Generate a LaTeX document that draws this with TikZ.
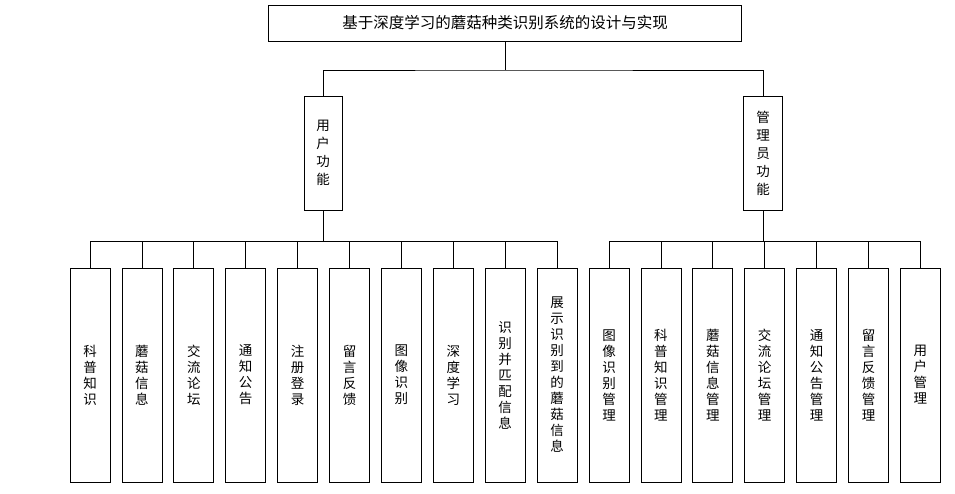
\documentclass[tikz,border=0pt]{standalone}
\usepackage{fontspec}
\setmainfont{Noto Sans CJK SC}
\tikzset{
  box/.style={draw, thick, inner sep=0pt},
  vbox/.style={box, minimum width=40pt, minimum height=214pt, font=\fontsize{13.5}{16}\selectfont, align=center},
  link/.style={thick}
}
\begin{document}
\begin{tikzpicture}[x=1pt,y=-1pt]
\useasboundingbox (0,0) rectangle (955,493);
% top
\node[box, minimum width=473pt, minimum height=36pt, font=\fontsize{15.5}{16}\selectfont] (root) at (505,23) {基于深度学习的蘑菇种类识别系统的设计与实现};
% second level
\node[box, minimum width=38pt, minimum height=114pt, font=\fontsize{13.5}{18}\selectfont, align=center] (user) at (323,153) {用\\户\\功\\能};
\node[box, minimum width=39pt, minimum height=114pt, font=\fontsize{13.5}{18}\selectfont, align=center] (admin) at (763,153) {管\\理\\员\\功\\能};
\coordinate (j) at (505,70);
\draw[link] (root.south) -- (j);
\draw[link] (user.north) |- (j) -| (admin.north);
% leaves
\foreach \t [count=\i] in {科\\普\\知\\识, 蘑\\菇\\信\\息, 交\\流\\论\\坛, 通\\知\\公\\告, 注\\册\\登\\录, 留\\言\\反\\馈, 图\\像\\识\\别, 深\\度\\学\\习, 识\\别\\并\\匹\\配\\信\\息, 展\\示\\识\\别\\到\\的\\蘑\\菇\\信\\息}{
  \node[vbox] (u\i) at ({90+51.9*(\i-1)},375) {\t};
  \draw[link] (u\i.north) |- (user.south |- 0,241);
}
\foreach \t [count=\i] in {图\\像\\识\\别\\管\\理, 科\\普\\知\\识\\管\\理, 蘑\\菇\\信\\息\\管\\理, 交\\流\\论\\坛\\管\\理, 通\\知\\公\\告\\管\\理, 留\\言\\反\\馈\\管\\理, 用\\户\\管\\理}{
  \node[vbox] (a\i) at ({609+51.9*(\i-1)},375) {\t};
  \draw[link] (a\i.north) |- (admin.south |- 0,241);
}
\draw[link] (user.south) -- (user.south |- 0,241);
\draw[link] (admin.south) -- (admin.south |- 0,241);
\end{tikzpicture}
\end{document}
